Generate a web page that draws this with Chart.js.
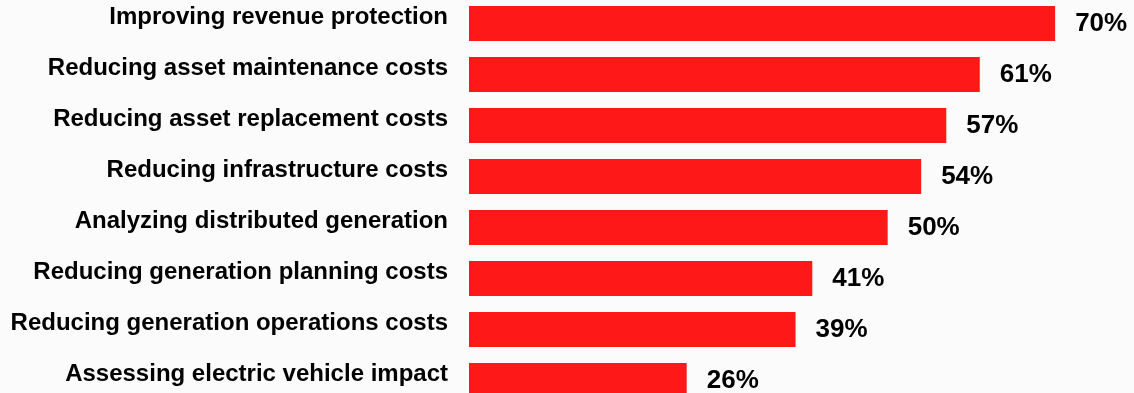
<!DOCTYPE html>
<html>
    <head>
        <meta name="viewport" content="width=device-width, initial-scale=1.0">
        <title>Benefits</title>
        <script src="https://cdn.jsdelivr.net/npm/chart.js/dist/chart.umd.min.js"></script>
        <style>
            html, body { margin: 0; padding: 0; background: #fbfbfb; overflow: hidden; }
            .chartBox { position: absolute; left: 0; top: -2px; width: 1134px; height: 408px; }
        </style>
    </head>
    <body>
        <div class="chartBox">
            <canvas id="myChart"></canvas>
        </div>

    <script>
        // categories and values
        const categories = [
            'Improving revenue protection',
            'Reducing asset maintenance costs',
            'Reducing asset replacement costs',
            'Reducing infrastructure costs',
            'Analyzing distributed generation',
            'Reducing generation planning costs',
            'Reducing generation operations costs',
            'Assessing electric vehicle impact'
        ];
        const percentages = [70, 61, 57, 54, 50, 41, 39, 26];

        // draws the "70%" etc next to each bar
        const valueLabels = {
            id: 'valueLabels',
            afterDatasetsDraw(chart) {
                const ctx = chart.ctx;
                const meta = chart.getDatasetMeta(0);
                ctx.save();
                ctx.font = 'bold 26px "Liberation Sans", Arial, sans-serif';
                ctx.fillStyle = '#000';
                ctx.textAlign = 'left';
                ctx.textBaseline = 'middle';
                meta.data.forEach((bar, i) => {
                    ctx.fillText(percentages[i] + '%', bar.x + 20, bar.y);
                });
                ctx.restore();
            }
        };

        const ctx = document.getElementById('myChart').getContext('2d');
        const myChart = new Chart(ctx, {
            type: 'bar',
            data: {
                // second empty line pushes the text a little above the bar centre
                labels: categories.map(c => [c, '']),
                datasets: [{
                    data: percentages,
                    backgroundColor: '#fe1818',
                    borderWidth: 0,
                    categoryPercentage: 1,
                    barPercentage: 0.686
                }]
            },
            options: {
                indexAxis: 'y',
                responsive: true,
                maintainAspectRatio: false,
                animation: false,
                layout: { padding: { left: 0, right: 37, top: 0, bottom: 0 } },
                plugins: {
                    legend: { display: false },
                    tooltip: { enabled: false }
                },
                scales: {
                    x: {
                        display: false,
                        min: 0,
                        max: 75
                    },
                    y: {
                        afterFit(scale) {
                            scale.width = 469;
                            scale.paddingTop = 0;
                            scale.paddingBottom = 0;
                        },
                        grid: { display: false, drawTicks: false },
                        border: { display: false },
                        ticks: {
                            color: '#000',
                            padding: 21,
                            font: { family: '"Liberation Sans", Arial, sans-serif', size: 24, weight: 'bold', lineHeight: 0.54 }
                        }
                    }
                }
            },
            plugins: [valueLabels]
        });
    </script>
    </body>
</html>
